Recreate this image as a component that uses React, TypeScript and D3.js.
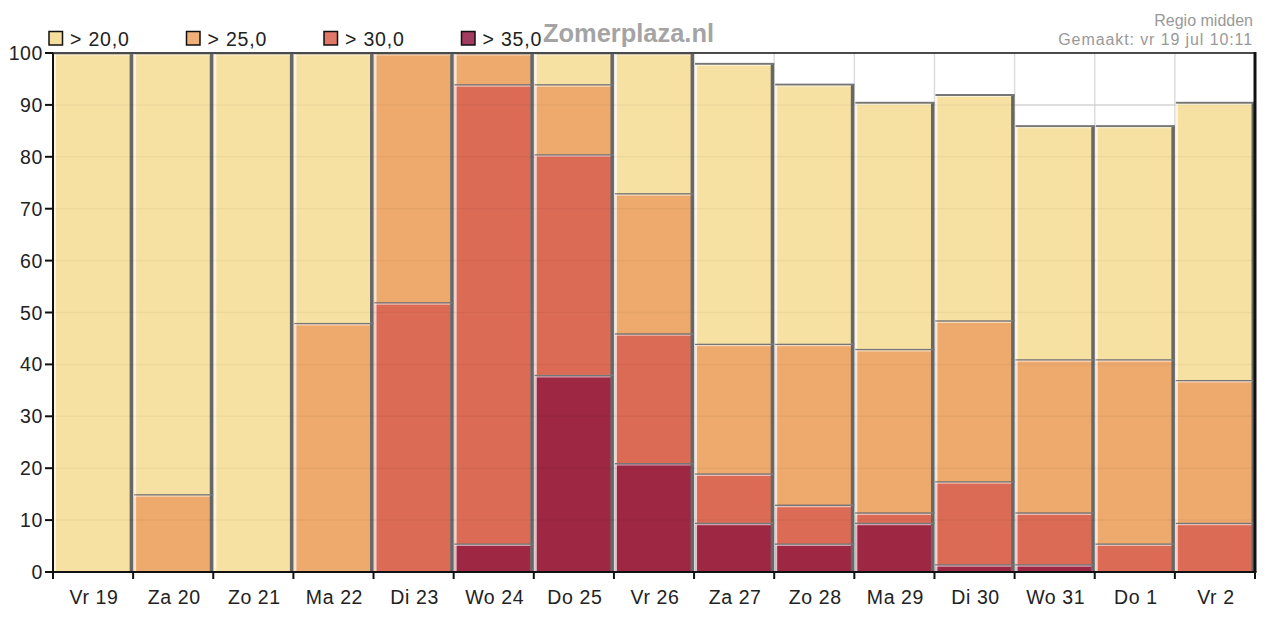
import React from "react";
import * as d3 from "d3";

const days = ["Vr 19", "Za 20", "Zo 21", "Ma 22", "Di 23", "Wo 24", "Do 25", "Vr 26", "Za 27", "Zo 28", "Ma 29", "Di 30", "Wo 31", "Do 1", "Vr 2"];
const gt20 = [100, 100, 100, 100, 100, 100, 100, 100, 98, 94, 90.5, 92, 86, 86, 90.5];
const gt25 = [0, 15, 0, 48, 100, 100, 94, 73, 44, 44, 43, 48.5, 41, 41, 37];
const gt30 = [0, 0, 0, 0, 52, 94, 80.5, 46, 19, 13, 11.5, 17.5, 11.5, 5.5, 9.5];
const gt35 = [0, 0, 0, 0, 0, 5.5, 38, 21, 9.5, 5.5, 9.5, 1.5, 1.5, 0, 0];
const seriesLabels = ["> 20,0", "> 25,0", "> 30,0", "> 35,0"];
const seriesColors = ["#f7e1a2", "#eeaa6c", "#dc6b55", "#9e2844"];
const legendColors = ["#f6df9c", "#f1b07a", "#e07868", "#a33a5f"];
const yTicks = [0, 10, 20, 30, 40, 50, 60, 70, 80, 90, 100];
const title = "Zomerplaza.nl";
const subtitle1 = "Regio midden";
const subtitle2 = "Gemaakt: vr 19 jul 10:11";

const W = 1273;
const H = 623;
const L = 53;
const R = 1255;
const T = 53;
const B = 572;
const FONT = "'Liberation Sans', Arial, sans-serif";

export default function App() {
  const x = d3.scaleBand<string>().domain(days).range([L, R]).padding(0);
  const y = d3.scaleLinear().domain([0, 100]).range([B, T]);
  const bw = x.bandwidth();
  const cum = [gt20, gt25, gt30, gt35];

  const segments: { key: string; x0: number; yTop: number; yBot: number; color: string }[] = [];
  days.forEach((d, i) => {
    const x0 = x(d) as number;
    for (let s = 3; s >= 0; s--) {
      const lo = s === 3 ? 0 : cum[s + 1][i];
      const hi = cum[s][i];
      if (hi - lo <= 0) continue;
      segments.push({ key: `${d}-${s}`, x0, yTop: y(hi), yBot: y(lo), color: seriesColors[s] });
    }
  });

  const boundaries = days.map((d) => x(d) as number).concat([R]);

  return (
    <svg width={W} height={H} style={{ position: "absolute", left: 0, top: 0, background: "#fff" }}>
      <defs>
        <clipPath id="plot">
          <rect x={L} y={T - 2} width={R - L} height={B - T + 2} />
        </clipPath>
      </defs>
      {/* grid */}
      <g stroke="#dcdcdc" strokeWidth={1.5}>
        {yTicks.map((t) => (
          <line key={`gy${t}`} x1={L} x2={R} y1={y(t)} y2={y(t)} />
        ))}
        {boundaries.map((b, i) => (
          <line key={`gx${i}`} x1={b} x2={b} y1={T} y2={B} />
        ))}
      </g>
      {/* bars */}
      <g clipPath="url(#plot)">
        {segments.map((s) => {
          const h = s.yBot - s.yTop;
          return (
            <g key={s.key}>
              <rect x={s.x0 + 1} y={s.yTop} width={bw - 4} height={h} fill={s.color} />
              <rect x={s.x0 + bw - 3.5} y={s.yTop} width={3.5} height={h} fill="#676767" />
              <rect x={s.x0 + 1} y={s.yTop - 0.5} width={bw - 1} height={2} fill="#767676" />
              <line x1={s.x0 + 2} x2={s.x0 + 2} y1={s.yTop + 1.5} y2={s.yBot} stroke="#ffffff" strokeOpacity={0.7} strokeWidth={2} />
              <line x1={s.x0 + 1} x2={s.x0 + bw - 3.5} y1={s.yTop + 2} y2={s.yTop + 2} stroke="#ffffff" strokeOpacity={0.55} strokeWidth={1.2} />
            </g>
          );
        })}
      </g>
      {/* faint grid over bars */}
      <g stroke="#000" strokeOpacity={0.04} strokeWidth={1.5}>
        {yTicks.slice(1, -1).map((t) => (
          <line key={`go${t}`} x1={L} x2={R} y1={y(t)} y2={y(t)} />
        ))}
      </g>
      {/* frame */}
      <line x1={L - 8} x2={R} y1={T} y2={T} stroke="#4a4a4a" strokeWidth={2} />
      <line x1={R} x2={R} y1={T - 1} y2={B} stroke="#111" strokeWidth={3} />
      <line x1={L} x2={L} y1={T} y2={B + 7} stroke="#111" strokeWidth={2} />
      <line x1={L - 8} x2={R + 1.5} y1={B} y2={B} stroke="#111" strokeWidth={2} />
      {/* y axis ticks */}
      <g fontFamily={FONT} fontSize={19.5} fill="#222" textAnchor="end">
        {yTicks.map((t) => (
          <g key={`yt${t}`}>
            <line x1={L - 8} x2={L} y1={y(t)} y2={y(t)} stroke="#111" strokeWidth={2} />
            <text x={L - 10} y={y(t) + 7} letterSpacing={0.6}>
              {t}
            </text>
          </g>
        ))}
      </g>
      {/* x axis ticks */}
      <g fontFamily={FONT} fontSize={19.5} fill="#222" textAnchor="middle">
        {boundaries.map((b, i) => (
          <line key={`xt${i}`} x1={b} x2={b} y1={B} y2={B + 7} stroke="#111" strokeWidth={2} />
        ))}
        {days.map((d) => (
          <text key={`xl${d}`} x={(x(d) as number) + bw / 2 + 1} y={603.5} letterSpacing={0.6}>
            {d}
          </text>
        ))}
      </g>
      {/* legend */}
      <g fontFamily={FONT} fontSize={19.5} fill="#222">
        {seriesLabels.map((lab, i) => {
          const lx = 49 + i * 137.5;
          return (
            <g key={lab}>
              <rect x={lx} y={31.5} width={13.5} height={13.5} fill={legendColors[i]} stroke="#111" strokeWidth={1.5} />
              <text x={lx + 21} y={46} letterSpacing={0.8}>
                {lab}
              </text>
            </g>
          );
        })}
      </g>
      {/* title */}
      <text x={543} y={42} fontFamily={FONT} fontWeight="bold" fontSize={25} fill="#a4a4a4" textLength={171} lengthAdjust="spacingAndGlyphs">
        {title}
      </text>
      <g fontFamily={FONT} fontSize={16} fill="#999" textAnchor="end">
        <text x={1253} y={26}>{subtitle1}</text>
        <text x={1253} y={45} letterSpacing={0.9}>{subtitle2}</text>
      </g>
    </svg>
  );
}
